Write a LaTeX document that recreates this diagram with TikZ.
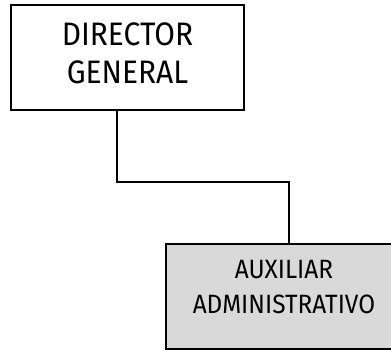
\documentclass[tikz,border=0pt]{standalone}
\usepackage{fontspec}
\setmainfont{Fira Sans}
\newfontfamily\narrowsans[FakeStretch=0.92]{Fira Sans}
\begin{document}
\begin{tikzpicture}[x=1pt,y=1pt,
  orgbox/.style={draw=black, line width=1.3pt, rectangle, inner sep=0pt},
  orgtext/.style={align=center, inner sep=0pt},
  link/.style={draw=black, line width=2pt}]
  \useasboundingbox (0,0) rectangle (391,350);
  % boxes
  \node[orgbox, fill=white, minimum width=233pt, minimum height=105pt] (director) at (127.5,292.5) {};
  \node[orgbox, fill=black!15, minimum width=229pt, minimum height=105pt] (auxiliar) at (280.5,53.5) {};
  % titles
  \node[orgtext, font=\narrowsans\fontsize{32.5}{38}\selectfont] (directorlbl) at (127.5,297) {DIRECTOR\\GENERAL};
  \node[orgtext, font=\narrowsans\fontsize{26.5}{35}\selectfont] (auxiliarlbl) at (284,62.5) {AUXILIAR\\ADMINISTRATIVO};
  % connector
  \coordinate (bend) at (200,168);
  \draw[link] ([xshift=-10.5pt]director.south) |- (bend) -| ([xshift=8.5pt]auxiliar.north);
\end{tikzpicture}
\end{document}
